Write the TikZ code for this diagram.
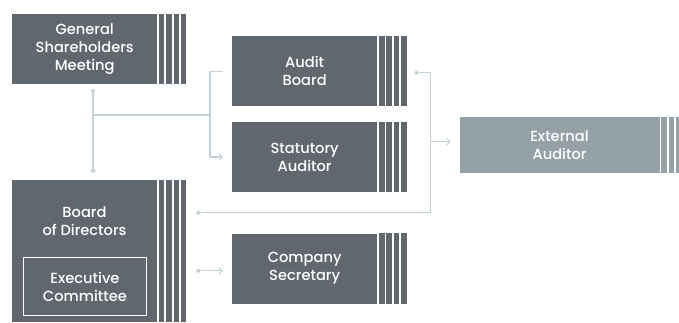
\documentclass[tikz,border=0pt]{standalone}
\usepackage{fontspec}
\setmainfont{Poppins}[UprightFont={* Medium}]
\usetikzlibrary{arrows.meta}
\definecolor{boxc}{HTML}{60676E}
\definecolor{extc}{HTML}{94A1A7}
\definecolor{linec}{HTML}{C3D1D8}
\tikzset{
  box/.style={fill=boxc, text=white, anchor=north west, inner sep=0pt, align=center,
    font=\fontsize{14.7}{17.8}\selectfont},
  lbl/.style={text=white, inner sep=0pt, align=center, font=\fontsize{14.7}{17.8}\selectfont},
  conn/.style={draw=linec, line width=1.2bp},
  arr/.style={conn, -{Straight Barb[length=2.6bp,width=6bp,line width=1.1bp]}},
  dot/.style={circle, fill=linec, minimum size=4bp, inner sep=0pt},
}
\newcommand\stripesfor[2]{%
  \foreach \i [evaluate=\i as \a using 1.5+7.3*\i, evaluate=\i as \b using 7+7.3*\i] in {0,...,3}
    \fill[#2] ([xshift=\a bp]#1.north east) rectangle ([xshift=\b bp]#1.south east);
}
\begin{document}
\begin{tikzpicture}[x=1bp,y=-1bp]
\useasboundingbox (0,0) rectangle (679,322);
% boxes
\node[box, minimum width=145bp, minimum height=70bp] (gsm) at (12,14) {General\\Shareholders\\Meeting};
\node[box, minimum width=145.5bp, minimum height=70bp] (audit) at (231.7,36) {Audit\\Board};
\node[box, minimum width=145.5bp, minimum height=70.3bp] (stat) at (231.7,121.7) {Statutory\\Auditor};
\node[box, fill=extc, minimum width=200bp, minimum height=56bp] (ext) at (459.3,116.7) {External\\Auditor};
\node[box, minimum width=145bp, minimum height=142bp] (board) at (12,180) {};
\node[box, minimum width=145.5bp, minimum height=70bp] (sec) at (231.7,233.3) {Company\\Secretary};
\node[lbl] (boardlbl) at (84.5,221) {Board\\of Directors};
\node[box, draw=white, line width=0.9bp, minimum width=122.4bp, minimum height=57.7bp] (exec) at (23.3,257.3) {Executive\\Committee};
\stripesfor{gsm}{boxc}
\stripesfor{audit}{boxc}
\stripesfor{stat}{boxc}
\stripesfor{ext}{extc}
\stripesfor{board}{boxc}
\stripesfor{sec}{boxc}
% connectors
\node[dot] (d1) at (93,91) {};
\coordinate (j1) at (93,115);
\coordinate (j2) at (210,115);
\draw[arr] (d1) -- ([yshift=7bp]d1 |- board.north);
\draw[conn] (j1) -- (j2);
\draw[conn, shorten >=9bp] (j2) |- (audit.west);
\draw[arr, shorten >=9bp] (j2) |- (stat.west);
\node[dot] (d2) at (416.5,72.7) {};
\node[dot] (d3) at (198.3,212.7) {};
\coordinate (k1) at (430.7,72.7);
\coordinate (k2) at (430.7,212.7);
\draw[conn] (d2) -- (k1) -- (k2) -- (d3);
\coordinate (k3) at (430.7,141.7);
\draw[arr] (k3) -- ([xshift=-9bp]k3 -| ext.west);
\node[dot] (d4) at (198.3,270.8) {};
\draw[arr] (d4) -- ([xshift=-9bp]d4 -| sec.west);
\end{tikzpicture}
\end{document}
